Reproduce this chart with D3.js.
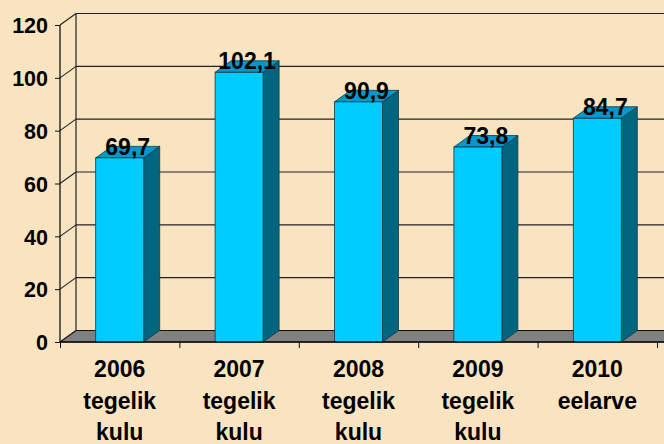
<!DOCTYPE html>
<html>
<head>
<meta charset="utf-8">
<script src="https://cdn.jsdelivr.net/npm/d3@7"></script>
<style>
  html, body { margin: 0; padding: 0; background: #F8E4C0; }
  svg { display: block; font-family: "Liberation Sans", Arial, sans-serif; font-weight: bold; }
</style>
</head>
<body>
<div id="graph"></div>
<script>
// chart data
const categories = ['2006', '2007', '2008', '2009', '2010']
const categoryLines = [
  ['2006', 'tegelik', 'kulu'],
  ['2007', 'tegelik', 'kulu'],
  ['2008', 'tegelik', 'kulu'],
  ['2009', 'tegelik', 'kulu'],
  ['2010', 'eelarve']
]
const values = [69.7, 102.1, 90.9, 73.8, 84.7]
const valueLabels = ['69,7', '102,1', '90,9', '73,8', '84,7']
const yTicks = [0, 20, 40, 60, 80, 100, 120]

const width = 664, height = 444
// 3d depth offset
const dx = 16, dy = -11.5

const svg = d3.select('#graph')
  .append('svg')
  .attr('width', width)
  .attr('height', height)

svg.append('rect').attr('width', width).attr('height', height).attr('fill', '#F8E4C0')

// front plane scales
const xScale = d3.scaleBand()
  .domain(categories)
  .range([60, 657])
  .paddingInner(0)
  .paddingOuter(0)

const yScale = d3.scaleLinear()
  .domain([0, 120])
  .range([342, 25])

const x0 = 60, x1 = 720
const barW = 48

// floor
svg.append('path')
  .attr('d', `M${x0},${yScale(0)} L${x0 + dx},${yScale(0) + dy} L${x1},${yScale(0) + dy} L${x1},${yScale(0)} Z`)
  .attr('fill', '#808080')
  .attr('stroke', '#111')
  .attr('stroke-width', 1)

// back wall gridlines and side wall diagonals
yTicks.forEach(t => {
  const y = yScale(t)
  if (t > 0) {
    svg.append('line')
      .attr('x1', x0 + dx).attr('x2', x1)
      .attr('y1', y + dy).attr('y2', y + dy)
      .attr('stroke', '#222').attr('stroke-width', 1.2)
  }
  svg.append('line')
    .attr('x1', x0).attr('y1', y)
    .attr('x2', x0 + dx).attr('y2', y + dy)
    .attr('stroke', '#222').attr('stroke-width', 1.1)
})

// back wall vertical edge
svg.append('line')
  .attr('x1', x0 + dx).attr('x2', x0 + dx)
  .attr('y1', yScale(120) + dy).attr('y2', yScale(0) + dy)
  .attr('stroke', '#222').attr('stroke-width', 1.2)

// bars
const bars = svg.selectAll('g.bar')
  .data(values)
  .enter()
  .append('g')
  .attr('class', 'bar')

bars.each(function(d, i) {
  const g = d3.select(this)
  const cx = xScale(categories[i]) + xScale.bandwidth() / 2
  const left = cx - barW / 2, right = cx + barW / 2
  const top = yScale(d), bottom = yScale(0)
  // side
  g.append('path')
    .attr('d', `M${right},${bottom} L${right + dx},${bottom + dy} L${right + dx},${top + dy} L${right},${top} Z`)
    .attr('fill', '#006680').attr('stroke', '#1a3340').attr('stroke-width', 0.8)
  // top
  g.append('path')
    .attr('d', `M${left},${top} L${left + dx},${top + dy} L${right + dx},${top + dy} L${right},${top} Z`)
    .attr('fill', '#0099CC').attr('stroke', '#1a3340').attr('stroke-width', 0.8)
  // front
  g.append('rect')
    .attr('x', left).attr('y', top)
    .attr('width', barW).attr('height', bottom - top)
    .attr('fill', '#00CCFF').attr('stroke', '#1a3340').attr('stroke-width', 0.8)
  // value label
  g.append('text')
    .attr('x', cx + dx / 2)
    .attr('y', top - 3)
    .attr('text-anchor', 'middle')
    .attr('font-size', 23)
    .attr('fill', '#000')
    .text(valueLabels[i])
})

// y axis
const yAxis = d3.axisLeft(yScale).tickValues(yTicks).tickSize(5).tickPadding(7).tickFormat(d3.format('d'))
const gy = svg.append('g')
  .attr('transform', `translate(${x0},0)`)
  .call(yAxis)
gy.select('.domain').attr('stroke', '#111').attr('stroke-width', 1.3).attr('d', `M0,${yScale(120)}V${yScale(0)}`)
gy.selectAll('.tick line').attr('stroke', '#111')
gy.selectAll('.tick text')
  .attr('font-size', 21.5)
  .attr('font-weight', 'bold')
  .attr('font-family', '"Liberation Sans", Arial, sans-serif')
  .attr('fill', '#000')
  .attr('dy', '0.36em')

// x axis
const xAxis = d3.axisBottom(d3.scaleLinear().domain([0, 5]).range([60, 657]))
  .tickValues([0, 1, 2, 3, 4, 5]).tickSize(6).tickFormat('')
const gx = svg.append('g')
  .attr('transform', `translate(0,${yScale(0)})`)
  .call(xAxis)
gx.select('.domain').attr('stroke', '#111').attr('stroke-width', 1.3).attr('d', `M${x0},0H${x1}`)
gx.selectAll('.tick line').attr('stroke', '#111')

// category labels
categoryLines.forEach((lines, i) => {
  const cx = xScale(categories[i]) + xScale.bandwidth() / 2
  const t = svg.append('text')
    .attr('text-anchor', 'middle')
    .attr('font-size', 23)
    .attr('fill', '#000')
  lines.forEach((s, j) => {
    t.append('tspan')
      .attr('x', cx)
      .attr('y', 377 + j * 31.5)
      .text(s)
  })
})
</script>
</body>
</html>
